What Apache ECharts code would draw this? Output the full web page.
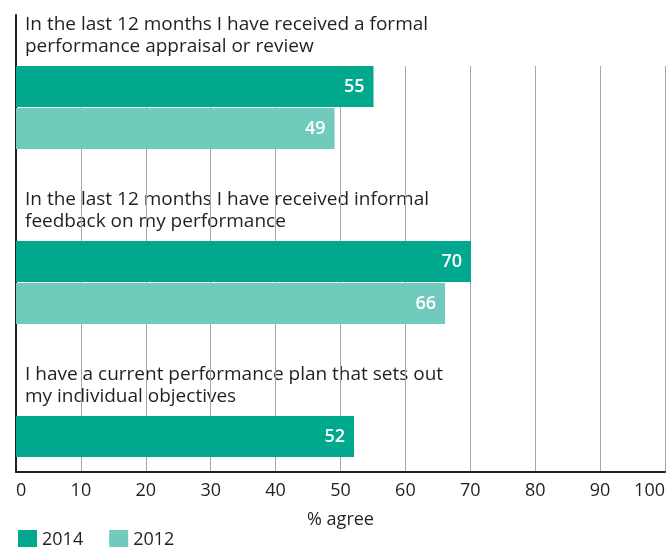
<!DOCTYPE html>
<html>
<head>
<meta charset="utf-8">
<script src="https://cdn.jsdelivr.net/npm/echarts@6/dist/echarts.min.js"></script>
<style>
  html, body { margin: 0; padding: 0; background: #fff; }
  #chart { width: 668px; height: 547px; }
</style>
</head>
<body>
<div id="chart"></div>
<script>
// questions (one group of bars each)
var questions = [
  "In the last 12 months I have received a formal\nperformance appraisal or review",
  "In the last 12 months I have received informal\nfeedback on my performance",
  "I have a current performance plan that sets out\nmy individual objectives"
];
var years = ["2014", "2012"];
var values2014 = [55, 70, 52];
var values2012 = [49, 66, null];

var FONT = "Open Sans";
var TEXT = "#231f20";
var COLORS = { "2014": "#00a88e", "2012": "#70cbbd" };

var chart = echarts.init(document.getElementById("chart"));

var LEFT = 16, RIGHT = 2, BOTTOM = 75;
var BAR = 41, GAP = 1;
var groupTops = [66, 241, 416];

var grids = [
  { left: LEFT, right: RIGHT, top: 15, bottom: BOTTOM }, // left axis frame
  { left: LEFT, right: RIGHT, top: 66, bottom: BOTTOM }  // gridlines + x axis
];
var xAxes = [
  { gridIndex: 0, type: "value", min: 0, max: 100, show: false },
  {
    gridIndex: 1, type: "value", min: 0, max: 100, interval: 10,
    axisLine: { show: true, lineStyle: { color: "#231f20", width: 2 } },
    axisTick: { show: false },
    splitLine: { show: true, lineStyle: { color: "#aaa5a1", width: 1 } },
    axisLabel: {
      color: TEXT, fontFamily: FONT, fontSize: 18, margin: 10,
      alignMinLabel: "left", alignMaxLabel: "right"
    },
    name: "% agree", nameLocation: "middle", nameGap: 39,
    nameTextStyle: { color: TEXT, fontFamily: FONT, fontSize: 18 }
  }
];
var yAxes = [
  {
    gridIndex: 0, type: "value", min: 0, max: 1,
    axisLine: { show: true, lineStyle: { color: "#231f20", width: 2 } },
    axisTick: { show: false }, axisLabel: { show: false }, splitLine: { show: false }
  },
  { gridIndex: 1, type: "value", min: 0, max: 1, show: false, splitLine: { show: false } }
];
var series = [];
var graphics = [];

questions.forEach(function (q, i) {
  var has2012 = values2012[i] != null;
  var n = has2012 ? 2 : 1;
  var g = grids.length;
  grids.push({ left: LEFT, right: RIGHT, top: groupTops[i], height: n * BAR + (n - 1) * GAP });
  xAxes.push({ gridIndex: g, type: "value", min: 0, max: 100, show: false, splitLine: { show: false } });
  yAxes.push({ gridIndex: g, type: "category", data: [q], inverse: true, show: false });

  var label = {
    show: true, position: "insideRight", distance: 9,
    color: "#fff", fontFamily: FONT, fontSize: 18, fontWeight: 600
  };
  series.push({
    name: "2014", type: "bar", xAxisIndex: g, yAxisIndex: g,
    data: [values2014[i]], barWidth: BAR, barGap: (GAP / BAR * 100) + "%",
    itemStyle: { color: COLORS["2014"] }, label: label, z: 3
  });
  if (has2012) {
    series.push({
      name: "2012", type: "bar", xAxisIndex: g, yAxisIndex: g,
      data: [values2012[i]], barWidth: BAR, barGap: (GAP / BAR * 100) + "%",
      itemStyle: { color: COLORS["2012"] }, label: label, z: 3
    });
  }

  graphics.push({
    type: "text", left: 25, top: groupTops[i] - 52,
    style: { text: q, fill: TEXT, font: "19px '" + FONT + "'", lineHeight: 22 }
  });
});

chart.setOption({
  animation: false,
  grid: grids,
  xAxis: xAxes,
  yAxis: yAxes,
  legend: {
    data: years, left: 18, top: 530, padding: 0, icon: "rect",
    itemWidth: 19, itemHeight: 19, itemGap: 26,
    textStyle: { color: TEXT, fontFamily: FONT, fontSize: 18 }
  },
  graphic: graphics,
  series: series
});
</script>
</body>
</html>
